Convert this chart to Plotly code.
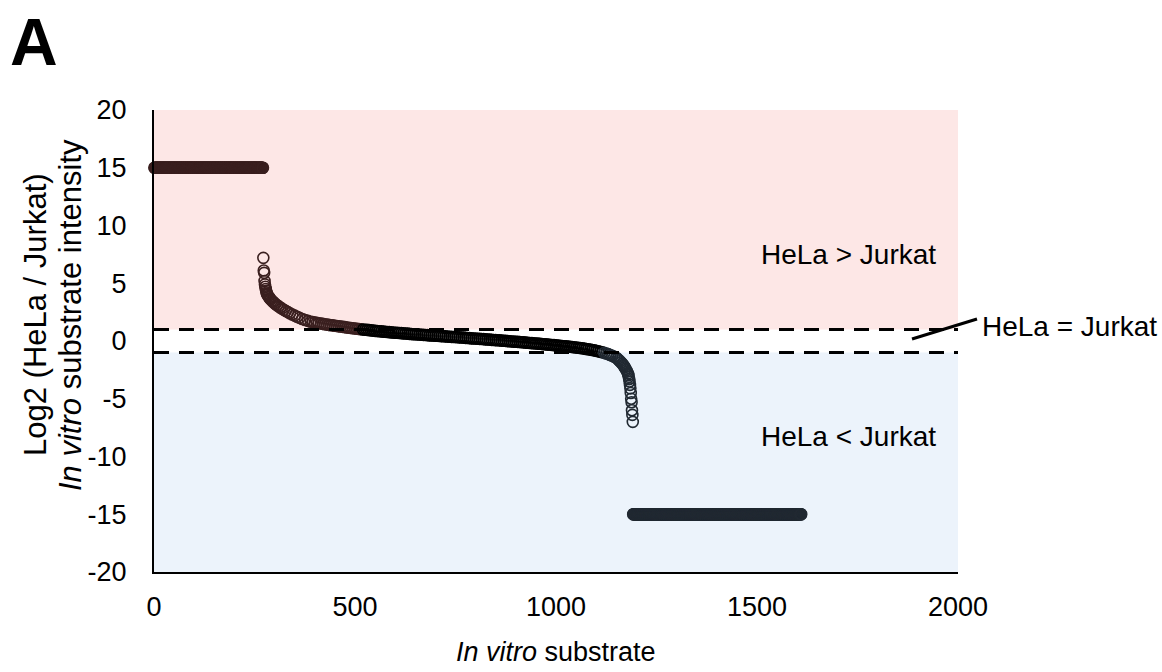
import plotly.graph_objects as go

# ---------------- data ----------------
# substrates detected only in HeLa (plotted at log2 = 15)
hela_only_rank = list(range(1, 272))
hela_only_log2 = [15.0] * len(hela_only_rank)

# substrates detected only in Jurkat (plotted at log2 = -15)
jurkat_only_rank = list(range(1192, 1611))
jurkat_only_log2 = [-15.0] * len(jurkat_only_rank)

# quantified substrates, sorted by ratio (steep head)
head_rank = [272, 273, 274, 275, 276, 277, 278, 279, 280, 281, 282, 284, 286, 288, 290,
             293, 296, 299, 302, 306, 310, 314, 318, 323, 328, 333, 338, 344, 350, 356,
             362, 369, 376, 383, 390, 395]
head_log2 = [7.2, 6.1, 5.9, 5.2, 4.9, 4.7, 4.5, 4.35, 4.2, 4.1, 4.0, 3.9, 3.8, 3.7, 3.6,
             3.5, 3.4, 3.3, 3.2, 3.1, 3.0, 2.9, 2.8, 2.7, 2.6, 2.5, 2.4, 2.3, 2.2, 2.1,
             2.0, 1.9, 1.82, 1.74, 1.67, 1.63]

# body of the sorted curve (ranks 400..1150, every 5th substrate)
body_rank = list(range(400, 1151, 5))
body_log2 = [
    1.60, 1.57, 1.54, 1.51, 1.48, 1.45, 1.42, 1.40, 1.37, 1.35,
    1.32, 1.30, 1.27, 1.25, 1.22, 1.20, 1.17, 1.15, 1.12, 1.10,
    1.08, 1.06, 1.04, 1.02, 1.00, 0.98, 0.96, 0.94, 0.92, 0.90,
    0.88, 0.86, 0.85, 0.83, 0.81, 0.80, 0.78, 0.77, 0.75, 0.74,
    0.72, 0.71, 0.69, 0.68, 0.66, 0.65, 0.64, 0.62, 0.61, 0.59,
    0.58, 0.57, 0.56, 0.54, 0.53, 0.52, 0.51, 0.49, 0.48, 0.47,
    0.46, 0.45, 0.43, 0.42, 0.41, 0.40, 0.39, 0.37, 0.36, 0.35,
    0.34, 0.33, 0.31, 0.30, 0.29, 0.27, 0.26, 0.25, 0.23, 0.22,
    0.21, 0.20, 0.18, 0.17, 0.16, 0.14, 0.13, 0.12, 0.10, 0.09,
    0.08, 0.06, 0.05, 0.03, 0.02, 0.01, -0.01, -0.02, -0.04, -0.05,
    -0.06, -0.08, -0.09, -0.11, -0.12, -0.14, -0.15, -0.17, -0.18, -0.20,
    -0.21, -0.23, -0.24, -0.26, -0.28, -0.29, -0.31, -0.33, -0.35, -0.36,
    -0.37, -0.39, -0.41, -0.43, -0.45, -0.46, -0.48, -0.50, -0.52, -0.54,
    -0.56, -0.58, -0.61, -0.63, -0.66, -0.69, -0.72, -0.75, -0.78, -0.81,
    -0.85, -0.89, -0.93, -0.98, -1.03, -1.08, -1.14, -1.21, -1.28, -1.36,
    -1.45,
]

# steep tail
tail_rank = [1153, 1156, 1159, 1162, 1165, 1167, 1169, 1171, 1173, 1175, 1177, 1179,
             1180, 1181, 1182, 1183, 1184, 1185, 1186, 1187, 1188, 1189, 1190, 1191]
tail_log2 = [-1.55, -1.65, -1.75, -1.86, -1.97, -2.07, -2.17, -2.28, -2.40, -2.52, -2.65, -2.8,
             -2.95, -3.1, -3.3, -3.5, -3.8, -4.1, -4.5, -5.0, -5.3, -6.0, -6.4, -7.0]

x_ticks = [0, 500, 1000, 1500, 2000]
x_tick_labels = ["0", "500", "1000", "1500", "2000"]
y_ticks = [-20, -15, -10, -5, 0, 5, 10, 15, 20]
y_tick_labels = ["-20", "-15", "-10", "-5", "0", "5", "10", "15", "20"]
threshold = 1.0

# ---------------- styling ----------------
BROWN = "#3a1f1f"
BLACK = "#000000"
SLATE = "#212932"
FONT = "Liberation Sans, Arial, sans-serif"

L, R, T, B = 154, 204, 110, 100
PW, PH = 1162 - L - R, 672 - T - B


def px_x(p):
    return (p - L) / PW


def px_y(p):
    return (672 - B - p) / PH


curve_rank = head_rank + body_rank + tail_rank
curve_log2 = head_log2 + body_log2 + tail_log2

up_x = [r for r, v in zip(curve_rank, curve_log2) if v > threshold]
up_y = [v for v in curve_log2 if v > threshold]
mid_x = [r for r, v in zip(curve_rank, curve_log2) if -threshold <= v <= threshold]
mid_y = [v for v in curve_log2 if -threshold <= v <= threshold]
dn_x = [r for r, v in zip(curve_rank, curve_log2) if v < -threshold]
dn_y = [v for v in curve_log2 if v < -threshold]


def marker(color):
    return dict(symbol="circle-open", size=11, color=color, line=dict(width=1.6, color=color))


fig = go.Figure()
for xs, ys, col, name in [
    (hela_only_rank, hela_only_log2, BROWN, "HeLa only"),
    (up_x, up_y, BROWN, "HeLa > Jurkat"),
    (mid_x, mid_y, BLACK, "HeLa = Jurkat"),
    (dn_x, dn_y, SLATE, "HeLa < Jurkat"),
    (jurkat_only_rank, jurkat_only_log2, SLATE, "Jurkat only"),
]:
    fig.add_trace(go.Scatter(x=xs, y=ys, mode="markers", marker=marker(col),
                             name=name, showlegend=False, cliponaxis=False))

# shaded regions
fig.add_shape(type="rect", xref="x", yref="y", x0=0, x1=2000, y0=threshold, y1=20,
              fillcolor="#fde7e6", line=dict(width=0), layer="below")
fig.add_shape(type="rect", xref="x", yref="y", x0=0, x1=2000, y0=-20, y1=-threshold,
              fillcolor="#ecf3fb", line=dict(width=0), layer="below")
# threshold dashed lines
for yv in (threshold, -threshold):
    fig.add_shape(type="line", xref="x", yref="y", x0=0, x1=2000, y0=yv, y1=yv,
                  line=dict(color="black", width=3, dash="15px,10px"), layer="above")

# leader line for "HeLa = Jurkat"
fig.add_shape(type="line", xref="paper", yref="paper",
              x0=px_x(912), y0=px_y(339), x1=px_x(977), y1=px_y(319),
              line=dict(color="black", width=3))

ann_font = dict(family=FONT, size=28, color="black")
fig.add_annotation(x=1950, y=7.5, xref="x", yref="y", text="HeLa &gt; Jurkat",
                   showarrow=False, xanchor="right", font=ann_font)
fig.add_annotation(x=1950, y=-8.3, xref="x", yref="y", text="HeLa &lt; Jurkat",
                   showarrow=False, xanchor="right", font=ann_font)
fig.add_annotation(x=px_x(980), y=px_y(326), xref="paper", yref="paper",
                   text="HeLa = Jurkat", showarrow=False, xanchor="left", font=ann_font)
fig.add_annotation(x=px_x(8), y=px_y(42), xref="paper", yref="paper", text="<b>A</b>",
                   showarrow=False, xanchor="left", yanchor="middle",
                   font=dict(family=FONT, size=66, color="black"))
# axis titles
ytitle_font = dict(family=FONT, size=31, color="black")
fig.add_annotation(x=px_x(35), y=px_y(315), xref="paper", yref="paper",
                   text="Log2 (HeLa / Jurkat)", textangle=-90, showarrow=False,
                   xanchor="center", yanchor="middle", font=ytitle_font)
fig.add_annotation(x=px_x(70), y=px_y(315), xref="paper", yref="paper",
                   text="<i>In vitro</i> substrate intensity", textangle=-90, showarrow=False,
                   xanchor="center", yanchor="middle", font=ytitle_font)
fig.add_annotation(x=px_x(556), y=px_y(652), xref="paper", yref="paper",
                   text="<i>In vitro</i> substrate", showarrow=False,
                   xanchor="center", yanchor="middle",
                   font=dict(family=FONT, size=27, color="black"))

fig.update_layout(
    width=1162, height=672,
    margin=dict(l=L, r=R, t=T, b=B),
    paper_bgcolor="white", plot_bgcolor="white",
    font=dict(family=FONT, size=27, color="black"),
    xaxis=dict(range=[0, 2000], tickvals=x_ticks, ticktext=x_tick_labels,
               showgrid=False, zeroline=False, automargin=False,
               showline=True, linecolor="black", linewidth=2, ticks="",
               ticklabelstandoff=10, tickfont=dict(size=27)),
    yaxis=dict(range=[-20, 20], tickvals=y_ticks, ticktext=y_tick_labels,
               showgrid=False, zeroline=False, automargin=False,
               showline=True, linecolor="black", linewidth=2, ticks="",
               ticklabelstandoff=20, tickfont=dict(size=27)),
)

fig.write_html("out.html")
